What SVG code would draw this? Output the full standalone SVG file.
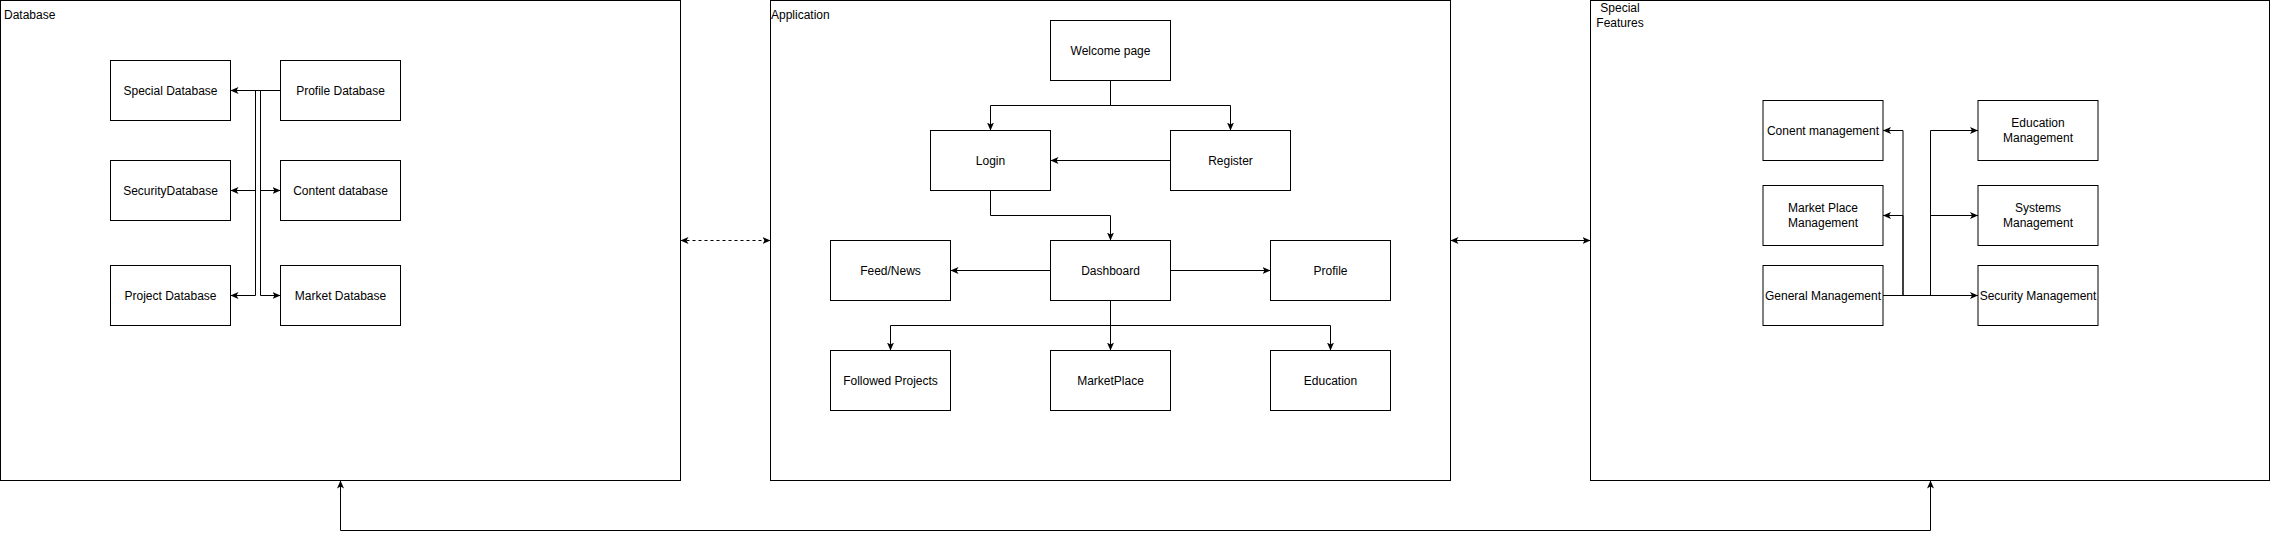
<svg xmlns="http://www.w3.org/2000/svg" width="2271" height="540" viewBox="0 0 2271 540">
<style>
.box{fill:#fff;stroke:#000;stroke-width:1}
.cont{fill:#fff;stroke:#000;stroke-width:1}
.t{font-family:"Liberation Sans",Arial,sans-serif;font-size:12px;fill:#000;text-anchor:middle}
.tl{font-family:"Liberation Sans",Arial,sans-serif;font-size:12px;fill:#000}
.e{fill:none;stroke:#000;stroke-width:1;marker-end:url(#arr)}
.e2{fill:none;stroke:#000;stroke-width:1;marker-end:url(#arr);marker-start:url(#arr)}
.dash{stroke-dasharray:3 3}
</style>
<defs>
<marker id="arr" viewBox="0 0 8 8" refX="8" refY="4" markerWidth="8" markerHeight="8" markerUnits="userSpaceOnUse" orient="auto-start-reverse">
<path d="M0,0.5 L8,4 L0,7.5 L2,4 Z" fill="#000" stroke="none"/>
</marker>
</defs>
<rect width="2271" height="540" fill="#fff"/>

<g id="database-container">
<rect class="cont" x="0.5" y="0.5" width="680" height="480"/>
<text class="tl" x="4" y="19">Database</text>
</g>
<g id="application-container">
<rect class="cont" x="770.5" y="0.5" width="680" height="480"/>
<text class="tl" x="771" y="19">Application</text>
</g>
<g id="special-features-container">
<rect class="cont" x="1590.5" y="0.5" width="679" height="480"/>
<text class="t" x="1620" y="11.5">Special</text>
<text class="t" x="1620" y="26.5">Features</text>
</g>

<g id="special-database"><rect class="box" x="110.5" y="60.5" width="120" height="60"/><text class="t" x="170.5" y="94.5">Special Database</text></g>
<g id="profile-database"><rect class="box" x="280.5" y="60.5" width="120" height="60"/><text class="t" x="340.5" y="94.5">Profile Database</text></g>
<g id="security-database"><rect class="box" x="110.5" y="160.5" width="120" height="60"/><text class="t" x="170.5" y="194.5">SecurityDatabase</text></g>
<g id="content-database"><rect class="box" x="280.5" y="160.5" width="120" height="60"/><text class="t" x="340.5" y="194.5">Content database</text></g>
<g id="project-database"><rect class="box" x="110.5" y="265.5" width="120" height="60"/><text class="t" x="170.5" y="299.5">Project Database</text></g>
<g id="market-database"><rect class="box" x="280.5" y="265.5" width="120" height="60"/><text class="t" x="340.5" y="299.5">Market Database</text></g>

<g id="welcome-page"><rect class="box" x="1050.5" y="20.5" width="120" height="60"/><text class="t" x="1110.5" y="54.5">Welcome page</text></g>
<g id="login"><rect class="box" x="930.5" y="130.5" width="120" height="60"/><text class="t" x="990.5" y="164.5">Login</text></g>
<g id="register"><rect class="box" x="1170.5" y="130.5" width="120" height="60"/><text class="t" x="1230.5" y="164.5">Register</text></g>
<g id="feed-news"><rect class="box" x="830.5" y="240.5" width="120" height="60"/><text class="t" x="890.5" y="274.5">Feed/News</text></g>
<g id="dashboard"><rect class="box" x="1050.5" y="240.5" width="120" height="60"/><text class="t" x="1110.5" y="274.5">Dashboard</text></g>
<g id="profile"><rect class="box" x="1270.5" y="240.5" width="120" height="60"/><text class="t" x="1330.5" y="274.5">Profile</text></g>
<g id="followed-projects"><rect class="box" x="830.5" y="350.5" width="120" height="60"/><text class="t" x="890.5" y="384.5">Followed Projects</text></g>
<g id="marketplace"><rect class="box" x="1050.5" y="350.5" width="120" height="60"/><text class="t" x="1110.5" y="384.5">MarketPlace</text></g>
<g id="education"><rect class="box" x="1270.5" y="350.5" width="120" height="60"/><text class="t" x="1330.5" y="384.5">Education</text></g>

<g id="conent-management"><rect class="box" x="1763" y="100.5" width="120" height="60"/><text class="t" x="1823" y="134.5">Conent management</text></g>
<g id="education-management"><rect class="box" x="1978" y="100.5" width="120" height="60"/><text class="t" x="2038" y="127">Education</text><text class="t" x="2038" y="141.5">Management</text></g>
<g id="market-place-management"><rect class="box" x="1763" y="185.5" width="120" height="60"/><text class="t" x="1823" y="212">Market Place</text><text class="t" x="1823" y="226.5">Management</text></g>
<g id="systems-management"><rect class="box" x="1978" y="185.5" width="120" height="60"/><text class="t" x="2038" y="212">Systems</text><text class="t" x="2038" y="226.5">Management</text></g>
<g id="general-management"><rect class="box" x="1763" y="265.5" width="120" height="60"/><text class="t" x="1823" y="299.5">General Management</text></g>
<g id="security-management"><rect class="box" x="1978" y="265.5" width="120" height="60"/><text class="t" x="2038" y="299.5">Security Management</text></g>

<g id="connectors">
<path class="e" d="M280.5 90.5 H230.5"/>
<path class="e" d="M280.5 90.5 H255.5 V190.5 H230.5"/>
<path class="e" d="M280.5 90.5 H255.5 V295.5 H230.5"/>
<path class="e" d="M280.5 90.5 H260.5 V190.5 H280.5"/>
<path class="e" d="M280.5 90.5 H260.5 V295.5 H280.5"/>

<path class="e" d="M1110.5 80.5 V105.5 H990.5 V130.5"/>
<path class="e" d="M1110.5 80.5 V105.5 H1230.5 V130.5"/>
<path class="e" d="M1170.5 160.5 H1050.5"/>
<path class="e" d="M990.5 190.5 V215.5 H1110.5 V240.5"/>
<path class="e" d="M1050.5 270.5 H950.5"/>
<path class="e" d="M1170.5 270.5 H1270.5"/>
<path class="e" d="M1110.5 300.5 V325.5 H890.5 V350.5"/>
<path class="e" d="M1110.5 300.5 V350.5"/>
<path class="e" d="M1110.5 300.5 V325.5 H1330.5 V350.5"/>

<path class="e" d="M1883 295.5 H1903 V130.5 H1883"/>
<path class="e" d="M1883 295.5 H1903 V215.5 H1883"/>
<path class="e" d="M1883 295.5 H1930.5 V130.5 H1978"/>
<path class="e" d="M1883 295.5 H1930.5 V215.5 H1978"/>
<path class="e" d="M1883 295.5 H1978"/>

<path class="e2 dash" d="M680.5 240.5 H770.5"/>
<path class="e2" d="M1450.5 240.5 H1590.5"/>
<path class="e2" d="M340.5 480.5 V530.5 H1930.5 V480.5"/>
</g>
</svg>
